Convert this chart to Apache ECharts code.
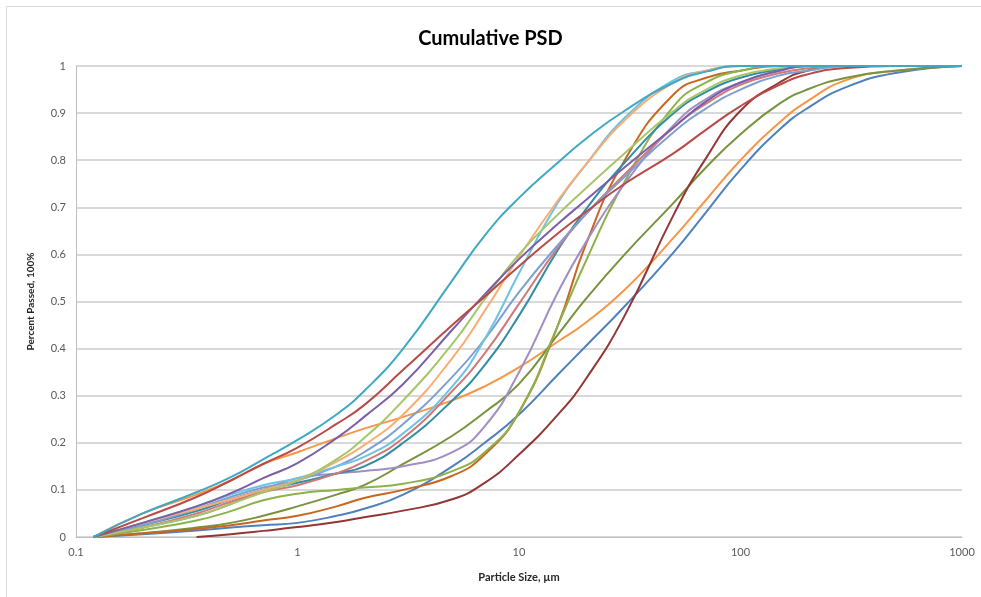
<!DOCTYPE html>
<html>
<head>
<meta charset="utf-8">
<script src="https://cdn.jsdelivr.net/npm/echarts@6/dist/echarts.min.js"></script>
<style>
html,body{margin:0;padding:0;background:#fff;}
#c{width:981px;height:597px;}
</style>
</head>
<body>
<div id="c"></div>
<script>
// Particle sizes (µm) at which each curve was read
const sizes = [0.12, 0.2, 0.35, 0.5, 0.7, 1, 1.5, 2, 3, 5, 7, 10, 15, 20, 30, 50, 70, 100, 150, 200, 300, 500, 1000];
const xTicks = [0.1, 1, 10, 100, 1000];
const yTicks = [0, 0.1, 0.2, 0.3, 0.4, 0.5, 0.6, 0.7, 0.8, 0.9, 1];

const sTeal       = [0, 0.05, 0.095, 0.127, 0.165, 0.206, 0.26, 0.31, 0.40, 0.545, 0.64, 0.72, 0.795, 0.845, 0.905, 0.965, 0.988, 1, 1, 1, 1, 1, 1];
const sRed        = [0, 0.04, 0.085, 0.12, 0.155, 0.19, 0.24, 0.28, 0.355, 0.45, 0.51, 0.575, 0.645, 0.69, 0.75, 0.815, 0.865, 0.915, 0.96, 0.982, 0.996, 1, 1];
const sPurple     = [0, 0.03, 0.065, 0.093, 0.125, 0.157, 0.21, 0.255, 0.325, 0.44, 0.515, 0.59, 0.665, 0.715, 0.785, 0.87, 0.925, 0.965, 0.99, 1, 1, 1, 1];
const sLightGreen = [0, 0.02, 0.045, 0.07, 0.095, 0.12, 0.165, 0.21, 0.29, 0.41, 0.505, 0.60, 0.685, 0.74, 0.815, 0.905, 0.95, 0.98, 0.995, 1, 1, 1, 1];
const sLightOrange= [0, 0.03, 0.06, 0.08, 0.10, 0.12, 0.16, 0.195, 0.26, 0.38, 0.48, 0.595, 0.715, 0.79, 0.885, 0.965, 0.99, 1, 1, 1, 1, 1, 1];
const sLightAqua  = [0, 0.03, 0.065, 0.09, 0.11, 0.125, 0.15, 0.17, 0.22, 0.32, 0.42, 0.56, 0.71, 0.79, 0.89, 0.97, 0.99, 1, 1, 1, 1, 1, 1];
const sLightBlue  = [0, 0.025, 0.06, 0.085, 0.105, 0.12, 0.15, 0.18, 0.24, 0.34, 0.42, 0.52, 0.62, 0.685, 0.765, 0.86, 0.91, 0.95, 0.98, 0.99, 1, 1, 1];
const sRose       = [0, 0.02, 0.05, 0.075, 0.095, 0.11, 0.135, 0.16, 0.21, 0.31, 0.39, 0.495, 0.615, 0.685, 0.77, 0.87, 0.92, 0.96, 0.985, 0.995, 1, 1, 1];
const sDarkTeal   = [0, 0.025, 0.055, 0.08, 0.10, 0.115, 0.135, 0.15, 0.20, 0.29, 0.365, 0.47, 0.61, 0.695, 0.795, 0.90, 0.945, 0.975, 0.993, 1, 1, 1, 1];
const sLightPurple= [0, 0.02, 0.045, 0.07, 0.10, 0.125, 0.135, 0.14, 0.15, 0.18, 0.235, 0.35, 0.52, 0.625, 0.75, 0.875, 0.93, 0.965, 0.99, 1, 1, 1, 1];
const sGreen      = [0, 0.015, 0.035, 0.055, 0.078, 0.092, 0.10, 0.105, 0.113, 0.14, 0.18, 0.265, 0.45, 0.585, 0.755, 0.915, 0.965, 0.99, 1, 1, 1, 1, 1];
const sDarkOrange = [0, 0.008, 0.017, 0.025, 0.035, 0.045, 0.065, 0.083, 0.10, 0.13, 0.175, 0.265, 0.45, 0.62, 0.80, 0.94, 0.975, 0.99, 1, 1, 1, 1, 1];
const sDarkGreen  = [0, 0.008, 0.02, 0.03, 0.045, 0.065, 0.09, 0.11, 0.155, 0.215, 0.265, 0.325, 0.43, 0.505, 0.60, 0.71, 0.785, 0.855, 0.92, 0.95, 0.975, 0.99, 1];
const sOrange     = [0, 0.05, 0.09, 0.12, 0.155, 0.18, 0.21, 0.23, 0.255, 0.29, 0.32, 0.36, 0.415, 0.455, 0.525, 0.636, 0.716, 0.80, 0.88, 0.925, 0.97, 0.99, 1];
const sBlue       = [0, 0.006, 0.014, 0.02, 0.025, 0.03, 0.045, 0.06, 0.09, 0.15, 0.20, 0.26, 0.345, 0.405, 0.49, 0.605, 0.69, 0.78, 0.865, 0.91, 0.955, 0.985, 1];
const sDarkRed    = [null, null, 0, 0.006, 0.013, 0.021, 0.032, 0.042, 0.056, 0.08, 0.115, 0.175, 0.26, 0.335, 0.47, 0.685, 0.805, 0.905, 0.965, 0.99, 1, 1, 1];

const curves = [
  ['Blue', sBlue, '#4F81BD'],
  ['Orange', sOrange, '#F79646'],
  ['Dark green', sDarkGreen, '#77933C'],
  ['Dark red', sDarkRed, '#943634'],
  ['Dark orange', sDarkOrange, '#C8661F'],
  ['Green', sGreen, '#8DB24C'],
  ['Light purple', sLightPurple, '#A08EC4'],
  ['Dark teal', sDarkTeal, '#2F8DA6'],
  ['Rose', sRose, '#CF7A78'],
  ['Light blue', sLightBlue, '#7F9FD3'],
  ['Light aqua', sLightAqua, '#6FC3E0'],
  ['Light orange', sLightOrange, '#F9AD72'],
  ['Light green', sLightGreen, '#A7C66A'],
  ['Purple', sPurple, '#7B5FA6'],
  ['Red', sRed, '#B84A48'],
  ['Teal', sTeal, '#3FA9C4']
];

const FONT = 'Lato, "Open Sans", sans-serif';
const chart = echarts.init(document.getElementById('c'));
chart.setOption({
  backgroundColor: '#fff',
  animation: false,
  title: {
    text: 'Cumulative PSD', left: 'center', top: 24,
    textStyle: {fontFamily: FONT, fontSize: 20, fontWeight: 'bold', color: '#000'}
  },
  graphic: [{
    type: 'rect', silent: true,
    shape: {x: 6.5, y: 6.5, width: 1000, height: 700},
    style: {fill: 'none', stroke: '#D9D9D9', lineWidth: 1}
  }],
  grid: {left: 76, right: 19, top: 66, bottom: 60},
  xAxis: {
    type: 'log', logBase: 10, min: 0.1, max: 1000,
    name: 'Particle Size, µm', nameLocation: 'middle', nameGap: 35,
    nameTextStyle: {fontFamily: FONT, fontSize: 11, fontWeight: 'bold', color: '#262626'},
    axisLine: {show: true, lineStyle: {color: '#BFBFBF', width: 1}},
    axisTick: {show: false},
    splitLine: {show: false},
    minorSplitLine: {show: false},
    axisLabel: {
      fontFamily: FONT, fontSize: 11, color: '#595959', margin: 10,
      formatter: v => { const t = xTicks.find(k => Math.abs(Math.log10(k) - Math.log10(v)) < 1e-6); return t !== undefined ? String(t) : ''; }
    }
  },
  yAxis: {
    type: 'value', min: 0, max: 1, interval: 0.1,
    name: 'Percent Passed, 100%', nameLocation: 'middle', nameGap: 40, nameRotate: 90,
    nameTextStyle: {fontFamily: FONT, fontSize: 10, fontWeight: 'bold', color: '#262626'},
    axisLine: {show: true, lineStyle: {color: '#BFBFBF', width: 1}},
    axisTick: {show: false},
    splitLine: {show: true, lineStyle: {color: '#D9D9D9', width: 2}},
    axisLabel: {
      fontFamily: FONT, fontSize: 11, color: '#595959', margin: 10,
      formatter: v => { const t = yTicks.find(k => Math.abs(k - v) < 1e-6); return t !== undefined ? String(t) : ''; }
    }
  },
  series: curves.map(([name, vals, color]) => ({
    name, type: 'line', smooth: 0.5, showSymbol: false, symbol: 'none',
    lineStyle: {color, width: 2},
    itemStyle: {color},
    data: sizes.map((x, i) => [x, vals[i]]).filter(p => p[1] !== null)
  }))
});
</script>
</body>
</html>
